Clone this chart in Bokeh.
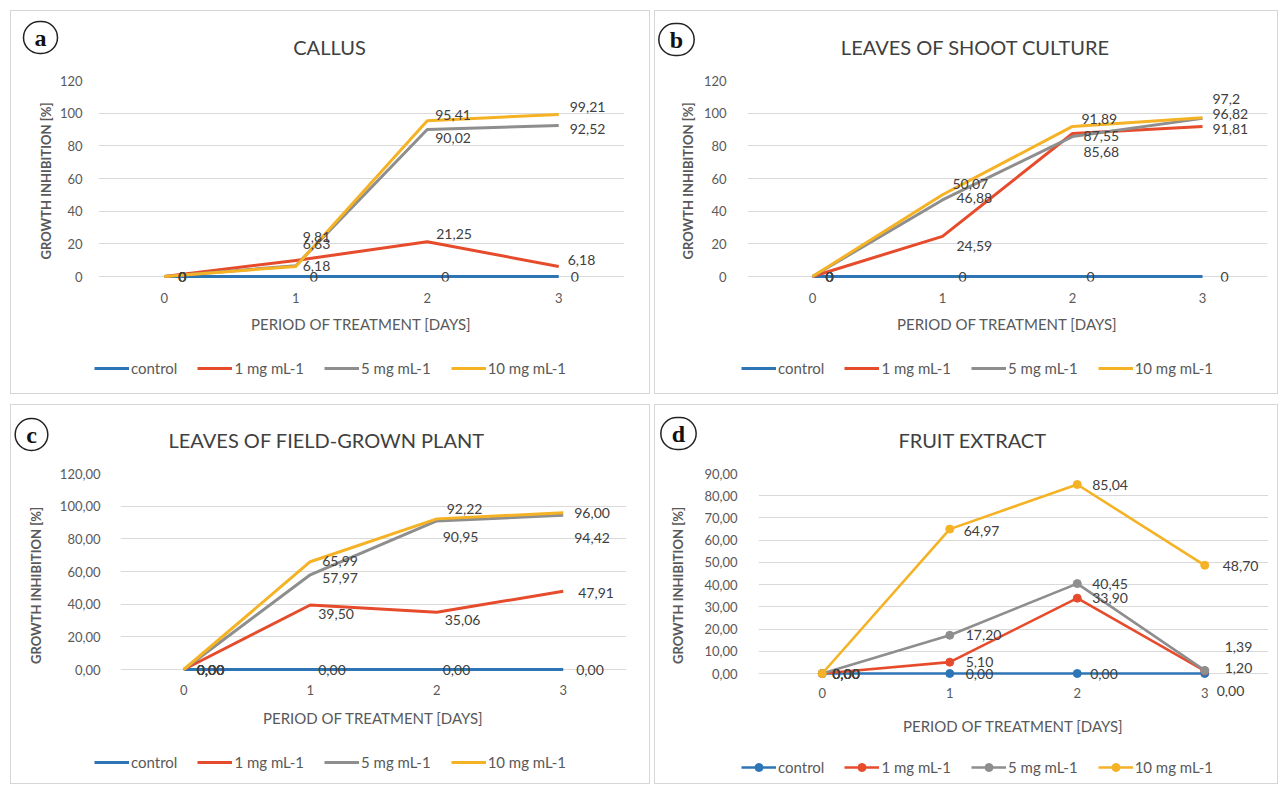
from bokeh.plotting import figure
from bokeh.models import (ColumnDataSource, LabelSet, Label, Legend, LegendItem,
                          FixedTicker, Range1d)
from bokeh.layouts import row, column
from bokeh.embed import file_html
from bokeh.resources import INLINE
from bokeh.core.properties import value

# ---------------- data ----------------
days = [0, 1, 2, 3]
day_labels = ["0", "1", "2", "3"]
series_names = ["control", "1 mg mL-1", "5 mg mL-1", "10 mg mL-1"]

callus_control = [0, 0, 0, 0]
callus_1mg = [0, 9.81, 21.25, 6.18]
callus_5mg = [0, 6.63, 90.02, 92.52]
callus_10mg = [0, 6.18, 95.41, 99.21]

shoot_control = [0, 0, 0, 0]
shoot_1mg = [0, 24.59, 87.55, 91.81]
shoot_5mg = [0, 46.88, 85.68, 96.82]
shoot_10mg = [0, 50.07, 91.89, 97.2]

field_control = [0.00, 0.00, 0.00, 0.00]
field_1mg = [0.00, 39.50, 35.06, 47.91]
field_5mg = [0.00, 57.97, 90.95, 94.42]
field_10mg = [0.00, 65.99, 92.22, 96.00]

fruit_control = [0.00, 0.00, 0.00, 0.00]
fruit_1mg = [0.00, 5.10, 33.90, 1.20]
fruit_5mg = [0.00, 17.20, 40.45, 1.39]
fruit_10mg = [0.00, 64.97, 85.04, 48.70]

yticks_120 = [0, 20, 40, 60, 80, 100, 120]
yticks_90 = [0, 10, 20, 30, 40, 50, 60, 70, 80, 90]

# ---------------- styling ----------------
FONT = "Lato"
COLORS = ["#2E75B6", "#E64B2C", "#8E8E8E", "#F4B224"]
TXT = "#595959"
LBL = "#404040"
BORDER = "1px solid #d6d6d6"


def fmt_general(v):
    return ("%g" % v).replace(".", ",")


def fmt_fixed(v):
    return ("%.2f" % v).replace(".", ",")


# data-label offsets (dx to left edge, dy upward, px) per series, per day
OFF_A = [[(14, 0), (14, 0), (14, 0), (12, 0)],
         [(14, 0), (7, 23), (9, 8), (9, 6)],
         [(14, 0), (7, 22), (8, -9), (11, -4)],
         [(14, 0), (7, 0), (8, 6), (11, 7)]]
OFF_B = [[(13, 0), (16, 0), (14, 0), (18, 0)],
         [(13, 0), (14, -10), (11, -2), (10, -2)],
         [(13, 0), (14, 2), (11, -15), (10, 4)],
         [(13, 0), (10, 11), (9, 7), (10, 19)]]
OFF_C = [[(13, 0), (8, 0), (6, 0), (13, 0)],
         [(13, 0), (8, -9), (8, -8), (15, -2)],
         [(13, 0), (12, -3), (6, -16), (11, -23)],
         [(13, 0), (12, 1), (10, 10), (11, 0)]]
OFF_D = [[(10, 0), (16, 0), (13, 0), (12, -17)],
         [(10, 0), (16, 0), (15, 0), (20, 3)],
         [(10, 0), (16, 0), (15, 0), (20, 23)],
         [(10, 0), (14, -2), (15, 0), (18, -1)]]

# geometry in pixels: header / chart / footer heights, chart borders, text spots
GEO = {
    "a": dict(W=640, hh=62, mh=268, fh=54, bl=87, br=27, bt=8, zero=204, fb=209,
              tx=318, ty=35, lx=29, ly=26, leg=(83, 16),
              xs=5, xls=9, ys=10, yls=3),
    "b": dict(W=624, hh=62, mh=268, fh=54, bl=92, br=12, bt=8, zero=204, fb=209,
              tx=320, ty=35, lx=21, ly=28, leg=(86, 16),
              xs=5, xls=9, ys=15, yls=5),
    "c": dict(W=640, hh=62, mh=273, fh=45, bl=109, br=25, bt=7, zero=203, fb=231,
              tx=315, ty=34, lx=20, ly=29, leg=(83, 12),
              xs=-19, xls=11, ys=14, yls=13),
    "d": dict(W=624, hh=62, mh=273, fh=45, bl=103, br=11, bt=7, zero=207, fb=231,
              tx=317, ty=34, lx=23, ly=28, leg=(86, 7),
              xs=-16, xls=16, ys=15, yls=15),
}


def bare(width, height, flip, styles):
    f = figure(width=width, height=height, output_backend="svg", toolbar_location=None,
               x_axis_type=None, y_axis_type=None, min_border=0,
               x_range=Range1d(0, width),
               y_range=Range1d(height, 0) if flip else Range1d(0, height))
    f.outline_line_color = None
    f.xgrid.visible = False
    f.ygrid.visible = False
    f.styles = styles
    return f


def build(letter, title, series, yticks, tick_fmt, label_fmt, offsets, markers=False):
    g = GEO[letter]
    W = g["W"]

    # ---------- header: circled letter + title ----------
    head = bare(W, g["hh"], True,
                {"border-top": BORDER, "border-left": BORDER, "border-right": BORDER})
    head.add_layout(Label(x=g["tx"], y=g["ty"], text=title, text_align="center",
                          text_baseline="middle", text_font=FONT, text_font_size="20px",
                          text_color=LBL))
    head.add_layout(Label(x=g["lx"], y=g["ly"], text=letter, text_align="center",
                          text_baseline="middle", text_font="Liberation Serif",
                          text_font_size="24px", text_font_style="bold",
                          text_color="#111111", border_line_color="#222222",
                          border_line_width=1.5, border_radius=17, padding=(11, 3)))

    # ---------- chart ----------
    ytop = yticks[-1]
    ppu = (g["zero"] - g["bt"]) / ytop
    y_start = -(g["fb"] - g["zero"]) / ppu
    p = figure(width=W, height=g["mh"], output_backend="svg", toolbar_location=None,
               x_range=Range1d(-0.5, 3.5), y_range=Range1d(y_start, ytop),
               min_border_left=g["bl"], min_border_right=g["br"],
               min_border_top=g["bt"], min_border_bottom=g["mh"] - g["fb"])
    p.styles = {"border-left": BORDER, "border-right": BORDER}
    p.outline_line_color = None

    p.xaxis.ticker = FixedTicker(ticks=days)
    p.xaxis.major_label_overrides = {d: s for d, s in zip(days, day_labels)}
    p.yaxis.ticker = FixedTicker(ticks=yticks)
    p.yaxis.major_label_overrides = {t: tick_fmt(t) for t in yticks}
    for ax in (p.xaxis[0], p.yaxis[0]):
        ax.axis_line_color = None
        ax.major_tick_line_color = None
        ax.minor_tick_line_color = None
        ax.major_label_text_font = FONT
        ax.major_label_text_font_size = "13px"
        ax.major_label_text_color = TXT
        ax.axis_label_text_font = FONT
        ax.axis_label_text_color = TXT
    p.xaxis.axis_label = "PERIOD OF TREATMENT [DAYS]"
    p.xaxis.axis_label_text_font_size = "15px"
    p.xaxis.axis_label_text_font_style = "normal"
    p.xaxis.major_label_standoff = g["xs"]
    p.xaxis.axis_label_standoff = g["xls"]
    p.yaxis.axis_label = "GROWTH INHIBITION [%]"
    p.yaxis.axis_label_text_font_size = "13px"
    p.yaxis.axis_label_text_font_style = "bold"
    p.yaxis.major_label_standoff = g["ys"]
    p.yaxis.axis_label_standoff = g["yls"]
    p.xgrid.grid_line_color = None
    p.ygrid.grid_line_color = "#d9d9d9"

    sources = []
    for i, vals in enumerate(series):
        src = ColumnDataSource(dict(x=days, y=vals, txt=[label_fmt(v) for v in vals],
                                    dx=[o[0] for o in offsets[i]],
                                    dy=[o[1] for o in offsets[i]]))
        sources.append(src)
        p.line("x", "y", source=src, line_color=COLORS[i],
               line_width=2.6 if markers else 3, line_join="round")
        if markers:
            p.scatter("x", "y", source=src, marker="circle", size=8,
                      fill_color=COLORS[i], line_color=COLORS[i])
    for src in sources:
        p.add_layout(LabelSet(x="x", y="y", text="txt", source=src,
                              x_offset="dx", y_offset="dy",
                              text_align="left", text_baseline="middle",
                              text_font=value(FONT), text_font_size=value("14px"),
                              text_color=LBL))

    # ---------- footer: legend (keys drawn from hidden copies of the series) ----------
    foot = bare(W, g["fh"], False,
                {"border-left": BORDER, "border-right": BORDER, "border-bottom": BORDER})
    items = []
    for i, (name, vals) in enumerate(zip(series_names, series)):
        rs = [foot.line(x=days, y=vals, line_color=COLORS[i],
                        line_width=2.6 if markers else 3, visible=False)]
        if markers:
            rs.append(foot.scatter(x=days, y=vals, marker="circle", size=8,
                                   fill_color=COLORS[i], line_color=COLORS[i],
                                   visible=False))
        items.append(LegendItem(label=name, renderers=rs))
    leg = Legend(items=items, location=g["leg"], orientation="horizontal",
                 glyph_width=35, glyph_height=20, label_standoff=2, spacing=20,
                 padding=0, margin=0, border_line_color=None,
                 background_fill_alpha=0, inactive_fill_alpha=0,
                 label_text_font=FONT, label_text_font_size="15px",
                 label_text_color=TXT, label_height=20)
    foot.add_layout(leg)
    return head, p, foot


ha, ma, fa = build("a", "CALLUS",
                   [callus_control, callus_1mg, callus_5mg, callus_10mg],
                   yticks_120, lambda v: str(v), fmt_general, OFF_A)
hb, mb, fb = build("b", "LEAVES OF SHOOT CULTURE",
                   [shoot_control, shoot_1mg, shoot_5mg, shoot_10mg],
                   yticks_120, lambda v: str(v), fmt_general, OFF_B)
hc, mc, fc = build("c", "LEAVES OF FIELD-GROWN PLANT",
                   [field_control, field_1mg, field_5mg, field_10mg],
                   yticks_120, fmt_fixed, fmt_fixed, OFF_C)
hd, md, fd = build("d", "FRUIT EXTRACT",
                   [fruit_control, fruit_1mg, fruit_5mg, fruit_10mg],
                   yticks_90, fmt_fixed, fmt_fixed, OFF_D, markers=True)

layout = column(
    row(ha, hb, spacing=4),
    row(ma, mb, spacing=4),
    row(fa, fb, spacing=4),
    row(hc, hd, spacing=4, margin=(10, 0, 0, 0)),
    row(mc, md, spacing=4),
    row(fc, fd, spacing=4),
    spacing=0, margin=(10, 0, 0, 10))

open("out.html", "w").write(file_html(layout, INLINE))
